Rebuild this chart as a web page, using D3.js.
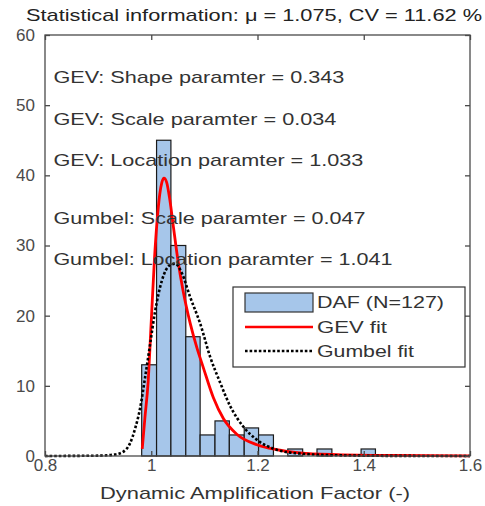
<!DOCTYPE html>
<html>
<head>
<meta charset="utf-8">
<script src="https://cdn.jsdelivr.net/npm/d3@7"></script>
<style>
  body { margin: 0; background: #fff; }
  text { font-family: "Liberation Sans", Arial, sans-serif; }
</style>
</head>
<body>
<svg id="chart"></svg>
<script>
const width = 485;
const height = 506;
const margin = { top: 35, right: 15, bottom: 50, left: 45 };
const graphWidth = width - margin.left - margin.right;
const graphHeight = height - margin.top - margin.bottom;

// histogram bins (edges) and counts
const binEdges = [0.982, 1.010, 1.037, 1.065, 1.092, 1.120, 1.147, 1.175, 1.202,
                  1.230, 1.257, 1.285, 1.312, 1.340, 1.367, 1.395, 1.422];
const binCounts = [13, 45, 30, 17, 3, 5, 3, 4, 3, 0, 1, 0, 1, 0, 0, 1];

// GEV fit curve
const gevX = [0.983, 0.988, 0.994, 1.000, 1.006, 1.011, 1.016, 1.020, 1.024, 1.029,
              1.035, 1.042, 1.050, 1.060, 1.073, 1.086, 1.098, 1.117, 1.136, 1.161,
              1.199, 1.236, 1.280, 1.350, 1.450, 1.600];
const gevY = [1.0, 5.4, 10.4, 19.2, 28.0, 33.5, 37.3, 39.0, 39.6, 39.0,
              36.5, 32.5, 28.0, 23.5, 19.0, 15.4, 12.6, 8.3, 5.3, 3.1,
              1.6, 0.9, 0.45, 0.2, 0.08, 0.03];

// Gumbel fit curve
const gumX = [0.800, 0.900, 0.930, 0.947, 0.960, 0.970, 0.979, 0.988, 0.998, 1.007,
              1.020, 1.035, 1.045, 1.058, 1.073, 1.092, 1.111, 1.130, 1.148, 1.173,
              1.199, 1.236, 1.280, 1.350, 1.450, 1.600];
const gumY = [0.0, 0.05, 0.2, 0.6, 1.8, 4.0, 6.8, 11.0, 16.0, 20.5,
              25.0, 27.2, 27.4, 26.0, 22.7, 18.9, 14.1, 10.4, 7.2, 4.2,
              2.3, 0.9, 0.35, 0.1, 0.02, 0.0];

const xTicks = [0.8, 1, 1.2, 1.4, 1.6];
const yTicks = [0, 10, 20, 30, 40, 50, 60];

const titleText = "Statistical information: \u03bc = 1.075, CV = 11.62 %";
const xLabel = "Dynamic Amplification Factor (-)";
const notes = [
  "GEV: Shape paramter = 0.343",
  "GEV: Scale paramter = 0.034",
  "GEV: Location paramter = 1.033",
  "Gumbel: Scale paramter = 0.047",
  "Gumbel: Location paramter = 1.041"
];
const legendLabels = ["DAF (N=127)", "GEV fit", "Gumbel fit"];

// layout (kept out of the data)
const noteY = [54, 48, 42.2, 34, 28.1];
const noteWidths = [291, 283, 310, 312, 339];
const barColor = "#a6c6ea";
const axisColor = "#4a4a4a";

const svg = d3.select("#chart")
    .attr("width", width)
    .attr("height", height);

const graph = svg.append("g")
    .attr("transform", `translate(${margin.left},${margin.top})`);

const xScale = d3.scaleLinear().domain([0.8, 1.6]).range([0, graphWidth]);
const yScale = d3.scaleLinear().domain([0, 60]).range([graphHeight, 0]);

// bars
const bins = binCounts.map((c, i) => ({ x0: binEdges[i], x1: binEdges[i + 1], c }));
graph.append("g")
  .selectAll("rect")
  .data(bins.filter(d => d.c > 0))
  .join("rect")
    .attr("x", d => xScale(d.x0))
    .attr("y", d => yScale(d.c))
    .attr("width", d => xScale(d.x1) - xScale(d.x0))
    .attr("height", d => yScale(0) - yScale(d.c))
    .attr("fill", barColor)
    .attr("stroke", "#1a1a1a")
    .attr("stroke-width", 1.2);

const line = d3.line()
    .x(d => xScale(d[0]))
    .y(d => yScale(d[1]))
    .curve(d3.curveMonotoneX);

graph.append("path")
    .attr("d", line(gevX.map((x, i) => [x, gevY[i]])))
    .attr("fill", "none")
    .attr("stroke", "#ff0000")
    .attr("stroke-width", 2.8);

graph.append("path")
    .attr("d", line(gumX.map((x, i) => [x, gumY[i]])))
    .attr("fill", "none")
    .attr("stroke", "#000")
    .attr("stroke-width", 2.6)
    .attr("stroke-dasharray", "2.6,2");

// axes, ticks inside the frame
const styleAxis = g => {
  g.select(".domain").remove();
  g.selectAll("line").attr("stroke", axisColor).attr("stroke-width", 1.3);
  g.selectAll("text")
    .attr("fill", "#4a4a4a")
    .style("font-size", "17px");
};

graph.append("g")
    .attr("transform", `translate(0,${graphHeight})`)
    .call(d3.axisBottom(xScale).tickValues(xTicks).tickFormat(d3.format("")).tickSize(-5).tickPadding(3))
    .call(styleAxis);

graph.append("g")
    .call(d3.axisTop(xScale).tickValues(xTicks).tickSize(-5).tickFormat(""))
    .call(styleAxis);

graph.append("g")
    .call(d3.axisLeft(yScale).tickValues(yTicks).tickSize(-5).tickPadding(10))
    .call(styleAxis);

graph.append("g")
    .attr("transform", `translate(${graphWidth},0)`)
    .call(d3.axisRight(yScale).tickValues(yTicks).tickSize(-5).tickFormat(""))
    .call(styleAxis);

graph.append("rect")
    .attr("width", graphWidth)
    .attr("height", graphHeight)
    .attr("fill", "none")
    .attr("stroke", axisColor)
    .attr("stroke-width", 1.3);

// annotations
graph.append("g")
  .selectAll("text")
  .data(notes)
  .join("text")
    .attr("x", xScale(0.8158))
    .attr("y", (d, i) => yScale(noteY[i]))
    .attr("dy", "0.36em")
    .attr("textLength", (d, i) => noteWidths[i])
    .attr("lengthAdjust", "spacingAndGlyphs")
    .attr("fill", "#333")
    .style("font-size", "17px")
    .text(d => d);

// title and x label
svg.append("text")
    .attr("x", 254)
    .attr("y", 15)
    .attr("dy", "0.36em")
    .attr("text-anchor", "middle")
    .attr("textLength", 456)
    .attr("lengthAdjust", "spacingAndGlyphs")
    .attr("fill", "#222")
    .style("font-size", "17px")
    .text(titleText);

svg.append("text")
    .attr("x", 255)
    .attr("y", 493)
    .attr("dy", "0.36em")
    .attr("text-anchor", "middle")
    .attr("textLength", 310)
    .attr("lengthAdjust", "spacingAndGlyphs")
    .attr("fill", "#333")
    .style("font-size", "17px")
    .text(xLabel);

// legend
const legend = svg.append("g").attr("transform", "translate(233,287)");
legend.append("rect")
    .attr("width", 232).attr("height", 80)
    .attr("fill", "#fff").attr("stroke", "#333").attr("stroke-width", 1.2);
legend.append("rect")
    .attr("x", 12).attr("y", 6).attr("width", 68).attr("height", 19)
    .attr("fill", barColor).attr("stroke", "#333").attr("stroke-width", 1.2);
legend.append("line")
    .attr("x1", 12).attr("x2", 80).attr("y1", 40).attr("y2", 40)
    .attr("stroke", "#ff0000").attr("stroke-width", 2.6);
legend.append("line")
    .attr("x1", 12).attr("x2", 80).attr("y1", 64).attr("y2", 64)
    .attr("stroke", "#000").attr("stroke-width", 2.6).attr("stroke-dasharray", "2.6,2");
const legendWidths = [127, 70, 97];
legend.selectAll("text.lab")
  .data(legendLabels)
  .join("text")
    .attr("class", "lab")
    .attr("x", 84)
    .attr("y", (d, i) => 15 + i * 24.5)
    .attr("dy", "0.36em")
    .attr("textLength", (d, i) => legendWidths[i])
    .attr("lengthAdjust", "spacingAndGlyphs")
    .attr("fill", "#333")
    .style("font-size", "17px")
    .text(d => d);
</script>
</body>
</html>
